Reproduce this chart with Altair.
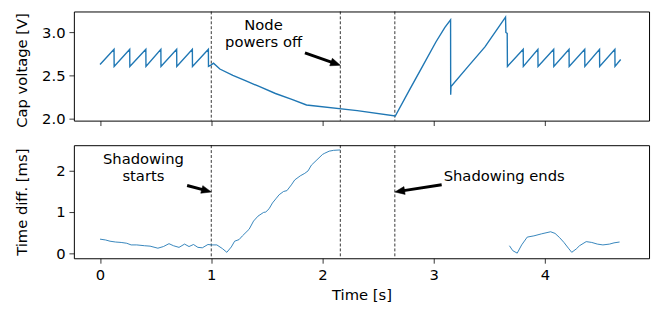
import math
import altair as alt
import pandas as pd

# ---------------- data ----------------
# Top panel: capacitor voltage [V] vs time [s]
cap_t = [0.000, 0.126, 0.127, 0.267, 0.268, 0.412, 0.413, 0.547, 0.548, 0.689, 0.690,
         0.830, 0.831, 0.974, 0.975, 1.000, 1.020, 1.077, 1.194, 1.312, 1.430, 1.577,
         1.724, 1.856, 2.312, 2.654, 2.783, 2.901, 3.019, 3.100, 3.151, 3.152, 3.155,
         3.313, 3.460, 3.645, 3.648, 3.660, 3.662, 3.804, 3.805, 3.936, 3.937, 4.078,
         4.079, 4.216, 4.217, 4.357, 4.358, 4.490, 4.491, 4.628, 4.629, 4.680]
cap_v = [2.630, 2.806, 2.607, 2.806, 2.607, 2.806, 2.607, 2.806, 2.607, 2.806, 2.607,
         2.806, 2.607, 2.806, 2.607, 2.625, 2.645, 2.577, 2.503, 2.441, 2.375, 2.294,
         2.227, 2.161, 2.095, 2.033, 2.338, 2.614, 2.890, 3.060, 3.147, 2.280, 2.375,
         2.614, 2.834, 3.177, 3.000, 2.990, 2.607, 2.806, 2.607, 2.806, 2.607, 2.806,
         2.607, 2.806, 2.607, 2.806, 2.607, 2.806, 2.607, 2.806, 2.607, 2.688]

# Bottom panel: time difference [ms], two segments
dt1_t = [0.00, 0.05, 0.09, 0.14, 0.19, 0.24, 0.28, 0.33, 0.40, 0.45, 0.52, 0.57, 0.62,
         0.66, 0.71, 0.76, 0.80, 0.84, 0.88, 0.92, 0.97, 1.00, 1.05, 1.10, 1.14, 1.18,
         1.21, 1.25, 1.28, 1.34, 1.38, 1.42, 1.47, 1.49, 1.52, 1.55, 1.58, 1.61, 1.65,
         1.68, 1.72, 1.75, 1.80, 1.84, 1.87, 1.90, 1.95, 2.00, 2.02, 2.06, 2.10, 2.16]
dt1_v = [0.34, 0.32, 0.29, 0.27, 0.26, 0.24, 0.20, 0.20, 0.18, 0.17, 0.12, 0.16, 0.23,
         0.18, 0.14, 0.22, 0.16, 0.21, 0.14, 0.13, 0.21, 0.20, 0.20, 0.11, 0.02, 0.15,
         0.29, 0.33, 0.42, 0.58, 0.78, 0.90, 0.99, 1.00, 1.08, 1.22, 1.32, 1.42, 1.50,
         1.52, 1.66, 1.78, 1.88, 1.94, 2.00, 2.14, 2.27, 2.40, 2.43, 2.48, 2.50, 2.51]
dt2_t = [3.68, 3.71, 3.75, 3.79, 3.84, 3.90, 3.97, 4.05, 4.09, 4.13, 4.17, 4.21, 4.24,
         4.28, 4.31, 4.37, 4.42, 4.47, 4.52, 4.58, 4.62, 4.67]
dt2_v = [0.18, 0.06, 0.00, 0.20, 0.39, 0.42, 0.47, 0.52, 0.48, 0.38, 0.26, 0.12, 0.02,
         0.10, 0.18, 0.28, 0.26, 0.22, 0.20, 0.22, 0.25, 0.27]

events = [1.0, 2.16, 2.65]

x_ticks = [0, 1, 2, 3, 4]
v_ticks = [2.0, 2.5, 3.0]
d_ticks = [0, 1, 2]

top_labels = ["Node", "powers off"]
top_label_t = [1.47, 1.47]
top_label_v = [3.08, 2.885]
top_arrow = [(1.842, 2.765), (2.16, 2.62)]

bot_labels = ["Shadowing", "starts", "Shadowing ends"]
bot_label_t = [0.39, 0.39, 3.089]
bot_label_v = [2.289, 1.863, 1.863]
bot_label_align = ["center", "center", "left"]
bot_arrows = [[(0.783, 1.646), (1.0, 1.487)], [(3.071, 1.663), (2.65, 1.487)]]

# ---------------- layout ----------------
X_DOMAIN = [-0.235, 4.935]
V_DOMAIN = [1.98, 3.243]
D_DOMAIN = [-0.125, 2.625]
W = 585
H_TOP = 111
H_BOT = 115
HEAD = 10
BLUE = "#1f77b4"
FONT = "DejaVu Sans"
FS = 15


def arrow_frames(arrows, ydom, h):
    sx = W / (X_DOMAIN[1] - X_DOMAIN[0])
    sy = h / (ydom[1] - ydom[0])
    shafts, heads = [], []
    for tail, head in arrows:
        dx = (head[0] - tail[0]) * sx
        dy = -(head[1] - tail[1]) * sy
        L = math.hypot(dx, dy)
        ux, uy = dx / L, dy / L
        ang = math.degrees(math.atan2(ux, -uy)) % 360
        bx = head[0] - ux * (HEAD - 1) / sx
        by = head[1] + uy * (HEAD - 1) / sy
        shafts.append({"x": tail[0], "y": tail[1], "x2": bx, "y2": by})
        heads.append({"x": head[0], "y": head[1], "ang": ang})
    return pd.DataFrame(shafts), pd.DataFrame(heads)


xscale = alt.Scale(domain=X_DOMAIN, nice=False, zero=False)
vscale = alt.Scale(domain=V_DOMAIN, nice=False, zero=False)
dscale = alt.Scale(domain=D_DOMAIN, nice=False, zero=False)

x_top_axis = alt.Axis(values=x_ticks, labels=False, title=None)
x_bot_axis = alt.Axis(values=x_ticks, title="Time [s]", format="d", labelPadding=5, titlePadding=5)

head_path = "M0,0L-0.4,1L0.4,1Z"

# ---------- top panel ----------
cap_df = pd.DataFrame({"t": cap_t, "v": cap_v, "i": range(len(cap_t))})
ev_df = pd.DataFrame({"t": events})

vl_top = alt.Chart(ev_df).mark_rule(color="black", strokeWidth=0.8, strokeDash=[3, 2]).encode(
    x=alt.X("t:Q", scale=xscale, axis=x_top_axis))

line_top = alt.Chart(cap_df).mark_line(color=BLUE, strokeWidth=1.4).encode(
    x=alt.X("t:Q", scale=xscale, axis=x_top_axis),
    y=alt.Y("v:Q", scale=vscale,
            axis=alt.Axis(values=v_ticks, format=".1f", title="Cap voltage [V]",
                          titleX=-45, titleY=H_TOP / 2 + 4)),
    order="i:Q")

ttop_df = pd.DataFrame({"t": top_label_t, "v": top_label_v, "s": top_labels})
text_top = alt.Chart(ttop_df).mark_text(font=FONT, fontSize=FS, color="black",
                                         align="center", baseline="middle").encode(
    x=alt.X("t:Q", scale=xscale), y=alt.Y("v:Q", scale=vscale), text="s:N")

sh_top, hd_top = arrow_frames([top_arrow], V_DOMAIN, H_TOP)
shaft_top = alt.Chart(sh_top).mark_rule(color="black", strokeWidth=3).encode(
    x=alt.X("x:Q", scale=xscale), y=alt.Y("y:Q", scale=vscale), x2="x2:Q", y2="y2:Q")
head_top = alt.Chart(hd_top).mark_point(shape=head_path, filled=True, fill="black",
                                         stroke="black", strokeWidth=0.5, size=400, opacity=1).encode(
    x=alt.X("x:Q", scale=xscale), y=alt.Y("y:Q", scale=vscale),
    angle=alt.Angle("ang:Q", scale=None))

top = alt.layer(vl_top, line_top, text_top, shaft_top, head_top).properties(width=W, height=H_TOP)

# ---------- bottom panel ----------
dt_df = pd.DataFrame({
    "t": dt1_t + dt2_t,
    "v": dt1_v + dt2_v,
    "seg": ["a"] * len(dt1_t) + ["b"] * len(dt2_t),
})

vl_bot = alt.Chart(ev_df).mark_rule(color="black", strokeWidth=0.8, strokeDash=[3, 2]).encode(
    x=alt.X("t:Q", scale=xscale, axis=x_bot_axis))

line_bot = alt.Chart(dt_df).mark_line(color=BLUE, strokeWidth=0.9).encode(
    x=alt.X("t:Q", scale=xscale, axis=x_bot_axis),
    y=alt.Y("v:Q", scale=dscale,
            axis=alt.Axis(values=d_ticks, format="d", title="Time diff. [ms]",
                          titleX=-45, titleY=H_BOT / 2)),
    detail="seg:N")

tb_df = pd.DataFrame({"t": bot_label_t, "v": bot_label_v, "s": bot_labels, "a": bot_label_align})
text_bot_c = alt.Chart(tb_df[tb_df.a == "center"]).mark_text(
    font=FONT, fontSize=FS, color="black", align="center", baseline="middle").encode(
    x=alt.X("t:Q", scale=xscale), y=alt.Y("v:Q", scale=dscale), text="s:N")
text_bot_l = alt.Chart(tb_df[tb_df.a == "left"]).mark_text(
    font=FONT, fontSize=FS, color="black", align="left", baseline="middle").encode(
    x=alt.X("t:Q", scale=xscale), y=alt.Y("v:Q", scale=dscale), text="s:N")

sh_bot, hd_bot = arrow_frames(bot_arrows, D_DOMAIN, H_BOT)
shaft_bot = alt.Chart(sh_bot).mark_rule(color="black", strokeWidth=3).encode(
    x=alt.X("x:Q", scale=xscale), y=alt.Y("y:Q", scale=dscale), x2="x2:Q", y2="y2:Q")
head_bot = alt.Chart(hd_bot).mark_point(shape=head_path, filled=True, fill="black",
                                         stroke="black", strokeWidth=0.5, size=400, opacity=1).encode(
    x=alt.X("x:Q", scale=xscale), y=alt.Y("y:Q", scale=dscale),
    angle=alt.Angle("ang:Q", scale=None))

bottom = alt.layer(vl_bot, line_bot, text_bot_c, text_bot_l, shaft_bot, head_bot).properties(
    width=W, height=H_BOT)

chart = alt.vconcat(top, bottom, spacing=25, bounds="flush").properties(
    padding={"left": 6, "top": 0, "right": 2, "bottom": 0}
).configure_view(
    stroke="black", strokeWidth=1
).configure_axis(
    labelFont=FONT, titleFont=FONT, labelFontSize=FS, titleFontSize=FS,
    titleFontWeight="normal", labelColor="black", titleColor="black",
    tickColor="black", tickWidth=0.8, tickSize=5, domain=False, grid=False,
    labelPadding=4, titlePadding=6
).configure_axisY(
    titleAngle=270, titleBaseline="bottom", titleAlign="center"
)

chart.save("out.html", embed_options={"renderer": "svg", "actions": False})
